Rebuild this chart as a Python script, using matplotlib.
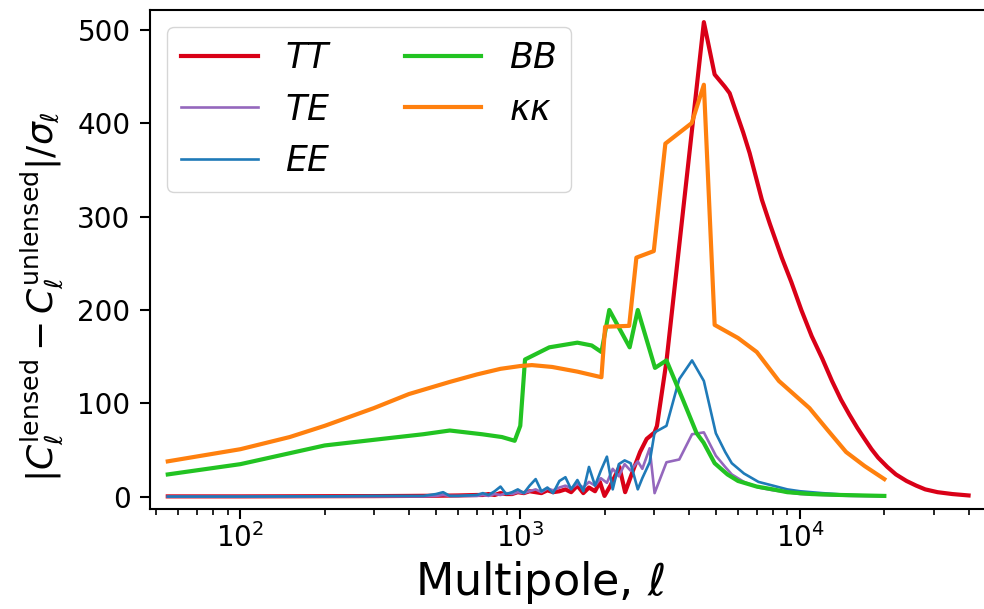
import matplotlib
matplotlib.use("Agg")
import matplotlib.pyplot as plt
import numpy as np

# multipoles and |C_l^lensed - C_l^unlensed| / sigma_l
ell_tt = [55, 80, 100, 150, 200, 300, 400, 500, 600,
          700, 735, 770, 810, 850, 890, 935, 980, 1030, 1080, 1135, 1190, 1250, 1310, 1380,
          1450, 1520, 1600, 1680, 1760, 1850, 1925, 2000, 2100, 2260, 2370, 2520, 2680, 2830,
          3020, 3080, 3330, 4530, 4950, 5380, 5600, 6260, 6600, 7300, 7800, 8600, 9300, 10100,
          11000, 12000, 13000, 14000, 15000, 16000, 17000, 18000, 19000, 20500, 22000, 24000,
          26000, 28000, 31000, 35000, 40000]
tt = [0.5, 0.5, 0.5, 0.6, 0.7, 0.8, 1, 1.2, 1.5,
      2, 2, 3, 2, 4, 3, 3, 5, 4, 6, 5, 4, 7, 5, 6,
      8, 5, 12, 4, 10, 6, 16, 1, 12, 32, 5, 27, 48, 62,
      69, 76, 145, 508, 452, 439, 432, 390, 368, 318, 292, 256, 230, 200,
      172, 148, 124, 104, 88, 74, 62, 51, 42, 32, 24, 17,
      12, 8, 5, 3, 1.5]

ell_pol = [55, 80, 100, 150, 200, 300, 400, 450, 500, 530, 560, 600,
           700, 735, 770, 810, 850, 890, 935, 980, 1030, 1080, 1135, 1190, 1250, 1310, 1380,
           1450, 1520, 1600, 1680, 1760, 1850, 1940, 2040, 2140, 2250, 2360, 2480, 2630, 2730,
           2900, 3020, 3330, 3700, 4110, 4530, 5000, 5400, 5700, 6300, 7100, 8000, 9000, 10000,
           12000, 15000, 20000]
ee = [0.3, 0.3, 0.3, 0.5, 0.5, 1, 1, 1, 3, 5, 1, 1,
      2, 4, 2, 6, 11, 3, 5, 8, 4, 12, 19, 6, 10, 4, 17,
      21, 8, 18, 6, 32, 12, 28, 43, 8, 35, 39, 36, 8, 20,
      37, 69, 76, 126, 146, 124, 68, 48, 36, 25, 16, 12, 8, 6,
      4, 2, 1]
te = [0.2, 0.2, 0.2, 0.3, 0.3, 0.5, 0.5, 0.5, 1, 2, 1, 1,
      1, 2, 1, 3, 2, 4, 3, 5, 4, 6, 8, 5, 9, 7, 10,
      12, 9, 14, 10, 16, 12, 20, 15, 30, 22, 35, 28, 38, 30,
      52, 4, 37, 40, 67, 69, 44, 32, 24, 16, 10, 7, 5, 3,
      2, 1, 0.5]

ell_bb = [55, 100, 200, 320, 450, 560, 730, 860, 955, 1000, 1040, 1270, 1600, 1800, 1950,
          2080, 2460, 2630, 3030, 3330, 3800, 4270, 4520, 4950, 5500, 6000, 7000, 8000, 9000,
          11000, 14000, 20000]
bb = [24, 35, 55, 62, 67, 71, 67, 64, 60, 76, 147, 160, 165, 162, 155,
      200, 160, 200, 138, 146, 105, 68, 58, 36, 24, 17, 11, 8, 5,
      3, 2, 1]

ell_kk = [55, 100, 150, 200, 300, 400, 560, 700, 850, 1000, 1100, 1300, 1600, 1950, 2010,
          2450, 2600, 3000, 3300, 4100, 4530, 4950, 6000, 7000, 8400, 10800, 12500, 14600,
          17000, 20000]
kk = [38, 51, 64, 76, 95, 110, 123, 131, 137, 140, 141, 139, 134, 128, 182,
      183, 256, 263, 378, 400, 441, 184, 170, 155, 124, 95, 72, 48, 33, 19]

fig = plt.figure(figsize=(9.84, 6.09), dpi=100)
ax = fig.add_axes([0.1524, 0.1642, 0.882, 0.8194])

ax.plot(ell_tt, tt, color="#d90017", lw=3.0, label="$TT$")
ax.plot(ell_pol, te, color="#9467bd", lw=1.9, label="$TE$")
ax.plot(ell_pol, ee, color="#1f7ab8", lw=1.9, label="$EE$")
ax.plot(ell_bb, bb, color="#22c322", lw=3.0, label="$BB$")
ax.plot(ell_kk, kk, color="#ff800e", lw=3.0, label=r"$\kappa\kappa$")

ax.set_xscale("log")
ax.set_xlim(47.5, 60000)
ax.set_ylim(-13, 521)
ax.set_yticks([0, 100, 200, 300, 400, 500])
ax.tick_params(which="major", labelsize=20, length=7, width=1.5)
ax.tick_params(axis="y", pad=7)
ax.tick_params(which="minor", length=4.5, width=1.2)
for s in ax.spines.values():
    s.set_linewidth(1.5)
ax.spines["right"].set_visible(False)

ax.set_xlabel(r"Multipole, $\ell$", fontsize=32)
ax.xaxis.set_label_coords(0.449, -0.1)
ax.xaxis.label.set_va("top")
ax.set_ylabel(r"$|C_\ell^{\rm lensed} - C_\ell^{\rm unlensed}|/\sigma_\ell$", fontsize=26)
ax.yaxis.set_label_coords(-0.098, 0.425)

ax.legend(loc="upper left", ncol=2, fontsize=25, handlelength=2.2, columnspacing=2.1,
          borderaxespad=0.5)

fig.savefig("out.png", dpi=100)
